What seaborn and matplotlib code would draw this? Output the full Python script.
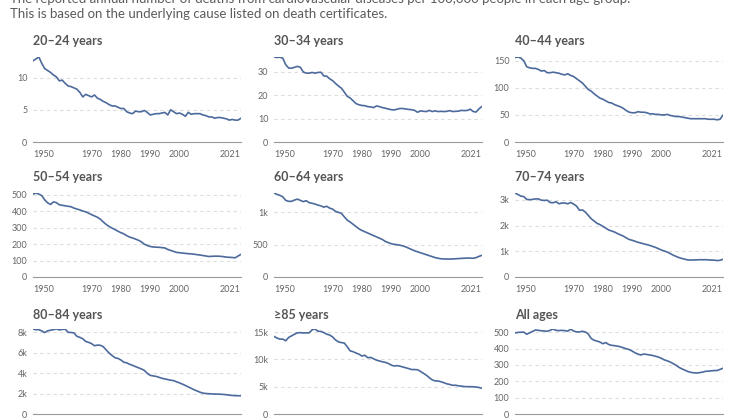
import numpy as np
import pandas as pd
import matplotlib

matplotlib.use("Agg")
import matplotlib.pyplot as plt
import seaborn as sns

sns.set_style("white")
plt.rcParams["font.family"] = ["Lato", "DejaVu Sans"]

# deaths from cardiovascular diseases per 100,000 people, by age group
years = np.arange(1950, 2022)

age_20_24 = [12.6, 12.9, 13.2, 12.2, 11.4, 11.1, 10.8, 10.4, 10.1, 9.5,
             9.6, 9.1, 8.7, 8.6, 8.4, 8.2, 7.7, 7.0, 7.4, 7.2,
             7.0, 7.3, 6.8, 6.6, 6.3, 6.1, 5.8, 5.6, 5.6, 5.4,
             5.2, 5.2, 4.7, 4.5, 4.4, 4.8, 4.7, 4.7, 4.9, 4.6,
             4.2, 4.3, 4.4, 4.4, 4.5, 4.6, 4.2, 5.0, 4.7, 4.4,
             4.5, 4.3, 4.0, 4.6, 4.3, 4.4, 4.4, 4.4, 4.2, 4.1,
             3.9, 3.9, 3.7, 3.8, 3.8, 3.7, 3.6, 3.4, 3.5, 3.4,
             3.4, 3.7]
age_30_34 = [36.3, 36.1, 36.2, 35.8, 33.0, 31.6, 31.5, 31.9, 32.3, 31.9,
             29.9, 29.4, 29.4, 29.7, 29.4, 29.7, 29.8, 28.2, 28.1, 27.0,
             26.2, 25.0, 23.9, 23.0, 21.3, 19.5, 18.8, 17.6, 16.4, 15.9,
             15.6, 15.5, 15.1, 15.0, 14.7, 15.4, 15.1, 14.7, 14.4, 14.1,
             13.8, 13.7, 14.0, 14.3, 14.3, 14.1, 13.9, 13.8, 13.5, 12.7,
             13.3, 13.1, 13.0, 13.5, 13.0, 13.3, 13.0, 13.1, 13.0, 13.1,
             13.4, 13.0, 13.1, 13.2, 13.5, 13.4, 13.5, 14.0, 13.0, 12.8,
             14.2, 15.2]
age_40_44 = [156, 157, 155, 150, 139, 137, 136, 136, 134, 131,
             132, 128, 128, 129, 128, 127, 125, 124, 126, 123,
             121, 117, 113, 109, 103, 97, 94, 89, 85, 81,
             79, 76, 73, 72, 69, 67, 65, 62, 58, 55,
             54, 54, 56, 55, 55, 54, 52, 52, 51, 51,
             50, 50, 51, 49, 48, 47, 47, 46, 45, 44,
             43, 43, 43, 43, 43, 43, 42, 42, 42, 41,
             42, 50]
age_50_54 = [505, 512, 505, 496, 470, 452, 442, 458, 453, 440,
             437, 434, 431, 428, 420, 414, 409, 402, 397, 389,
             380, 372, 364, 352, 335, 320, 308, 298, 289, 279,
             270, 263, 252, 243, 238, 231, 224, 214, 200, 192,
             186, 183, 182, 181, 179, 177, 168, 162, 156, 150,
             148, 146, 144, 142, 141, 139, 136, 134, 131, 128,
             125, 126, 127, 127, 126, 124, 121, 120, 119, 117,
             128, 138]
age_60_64 = [1299, 1278, 1262, 1240, 1185, 1170, 1170, 1190, 1204, 1185,
             1165, 1180, 1150, 1140, 1128, 1112, 1100, 1080, 1094, 1065,
             1050, 1015, 1000, 985, 930, 880, 850, 815, 780, 745,
             720, 700, 680, 660, 640, 620, 600, 580, 550, 532,
             515, 505, 500, 492, 480, 465, 445, 425, 405, 390,
             375, 360, 345, 330, 315, 300, 290, 282, 279, 278,
             278, 279, 282, 285, 288, 290, 293, 292, 290, 300,
             320, 335]
age_70_74 = [3270, 3210, 3150, 3130, 3020, 3010, 3020, 3040, 3040, 2990,
             2980, 2990, 2900, 2890, 2930, 2850, 2880, 2880, 2850, 2900,
             2840, 2760, 2600, 2610, 2530, 2400, 2270, 2180, 2090, 2040,
             1970, 1900, 1830, 1790, 1750, 1690, 1640, 1590, 1520, 1460,
             1430, 1390, 1350, 1320, 1290, 1260, 1230, 1190, 1150, 1100,
             1050, 1010, 970, 910, 850, 800, 755, 720, 690, 665,
             660, 665, 665, 675, 670, 675, 665, 660, 655, 640,
             650, 690]
age_80_84 = [8340, 8270, 8280, 8150, 7990, 8160, 8220, 8280, 8340, 8250,
             8300, 8330, 8010, 8000, 7950, 7620, 7520, 7380, 7120, 7030,
             6900, 6700, 6760, 6740, 6600, 6280, 5980, 5740, 5520, 5450,
             5300, 5080, 5020, 4880, 4770, 4650, 4540, 4420, 4280, 3990,
             3790, 3740, 3690, 3600, 3510, 3440, 3380, 3320, 3270, 3160,
             3050, 2930, 2800, 2660, 2520, 2380, 2260, 2140, 2050, 2010,
             1990, 1970, 1960, 1950, 1940, 1920, 1890, 1850, 1820, 1800,
             1790, 1790]
age_85_plus = [14190, 13900, 13700, 13700, 13400, 14000, 14300, 14600, 14850, 14880,
               14820, 14850, 14840, 15400, 15550, 15150, 15100, 14900, 14600, 14450,
               14100, 13550, 13200, 13060, 12980, 12300, 11550, 11400, 11150, 10950,
               10600, 10750, 10300, 10350, 10100, 9850, 9700, 9550, 9450, 9250,
               8950, 8780, 8850, 8750, 8600, 8450, 8300, 8130, 8130, 8100,
               7800, 7450, 7100, 6650, 6250, 6050, 6030, 5900, 5720, 5520,
               5400, 5250, 5260, 5150, 5100, 5020, 5000, 5000, 4980, 4930,
               4850, 4690]
all_ages = [496, 499, 500, 501, 488, 497, 505, 514, 512, 509,
            508, 506, 512, 520, 512, 510, 512, 510, 507, 519,
            508, 502, 502, 506, 502, 490, 462, 451, 446, 440,
            430, 437, 425, 420, 418, 415, 411, 405, 399, 394,
            385, 374, 366, 361, 367, 364, 361, 358, 353, 348,
            340, 331, 325, 318, 308, 298, 285, 276, 268, 260,
            255, 252, 251, 253, 256, 261, 262, 264, 266, 266,
            273, 280]

titles = ["20–24 years", "30–34 years", "40–44 years",
          "50–54 years", "60–64 years", "70–74 years",
          "80–84 years", "≥85 years", "All ages"]
series = [age_20_24, age_30_34, age_40_44,
          age_50_54, age_60_64, age_70_74,
          age_80_84, age_85_plus, all_ages]
y_ticks = [[0, 5, 10], [0, 10, 20, 30], [0, 50, 100, 150],
           [0, 100, 200, 300, 400, 500], [0, 500, 1000], [0, 1000, 2000, 3000],
           [0, 2000, 4000, 6000, 8000], [0, 5000, 10000, 15000],
           [0, 100, 200, 300, 400, 500]]
x_ticks = [1950, 1970, 1980, 1990, 2000, 2021]

subtitle = [
    "The reported annual number of deaths from cardiovascular diseases per 100,000 people in each age group.",
    "This is based on the underlying cause listed on death certificates.",
]

LINE = "#4c6a9c"
W, H = 740, 420


def fmt(v):
    """1000 -> 1k, 500 -> 500"""
    if v >= 1000:
        return f"{v / 1000:g}k"
    return f"{v:g}"


def draw_panel(ax, title, values, ticks, title_y, show_years=True):
    df = pd.DataFrame({"year": years, "rate": values})
    sns.lineplot(data=df, x="year", y="rate", ax=ax, color=LINE, linewidth=1.2)
    ax.set_xlim(1950, 2021)
    ax.set_ylim(0, max(values))
    ax.set_xlabel("")
    ax.set_ylabel("")
    # dashed horizontal gridlines only
    ax.set_yticks(ticks)
    ax.set_yticklabels([fmt(t) for t in ticks])
    ax.yaxis.grid(True, linestyle=(0, (3, 3)), color="#dddddd", linewidth=0.8)
    ax.xaxis.grid(False)
    ax.set_xticks(x_ticks)
    ax.set_xticklabels([str(t) for t in x_ticks])
    labels = ax.get_xticklabels()
    labels[0].set_horizontalalignment("left")
    labels[-1].set_horizontalalignment("right")
    for side in ["top", "right", "left"]:
        ax.spines[side].set_visible(False)
    ax.spines["bottom"].set_color("#999999")
    ax.spines["bottom"].set_linewidth(0.8)
    ax.tick_params(axis="y", length=0, pad=4, labelsize=6.5, labelcolor="#666666")
    ax.tick_params(axis="x", length=4, width=0.8, color="#999999", pad=2,
                   labelsize=6.5, labelcolor="#666666", labelbottom=show_years)
    # panel title sits just above the plot, aligned with its left edge
    pos = ax.get_position()
    ax.figure.text(pos.x0, 1 - title_y / H, title, fontsize=9, fontweight="bold",
                   color="#555555", va="center", ha="left")


fig = plt.figure(figsize=(W / 100, H / 100), dpi=100)

lefts = [33, 274, 515]
width = 208
rows = [(57, 142, 41), (193, 277, 177), (329, 414, 315)]

for i in range(9):
    top, bottom, title_y = rows[i // 3]
    left = lefts[i % 3]
    ax = fig.add_axes([left / W, 1 - bottom / H, width / W, (bottom - top) / H])
    # the bottom row's year labels fall below the cropped edge in the reference
    draw_panel(ax, titles[i], series[i], y_ticks[i], title_y, show_years=i < 6)

# subtitle, the first line is partly cut off at the top like the reference
fig.text(10 / W, 1 - (-1) / H, subtitle[0], fontsize=9.5, color="#5b5b5b", va="center")
fig.text(10 / W, 1 - 14 / H, subtitle[1], fontsize=9.5, color="#5b5b5b", va="center")

plt.savefig("out.png", dpi=100)
